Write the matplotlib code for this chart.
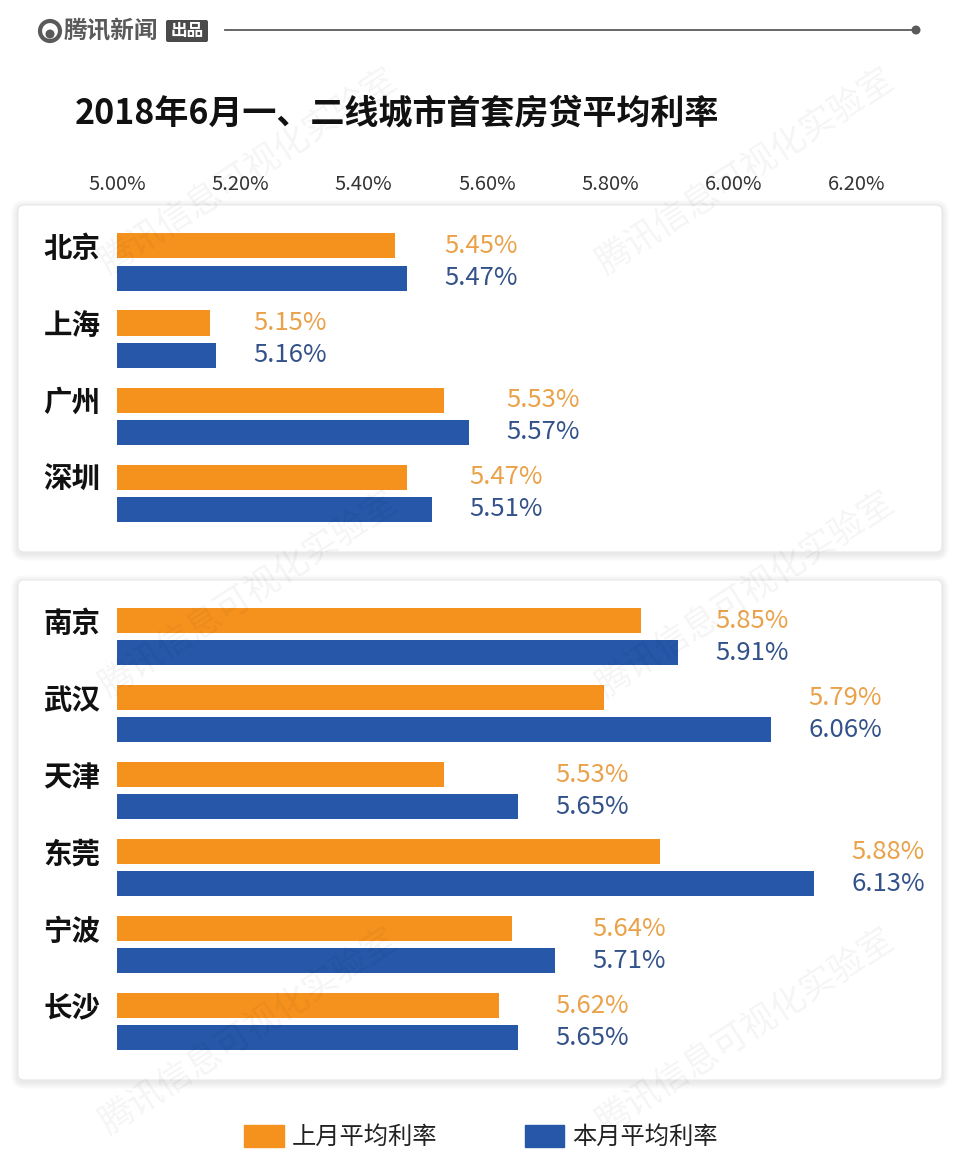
import numpy as np
import matplotlib
matplotlib.use("Agg")
import matplotlib.pyplot as plt
from matplotlib.patches import FancyBboxPatch, Circle, Patch

plt.rcParams['font.family'] = ['Noto Sans CJK SC', 'DejaVu Sans']

# données
title = "2018年6月一、二线城市首套房贷平均利率"
cities = ['北京', '上海', '广州', '深圳', '南京', '武汉', '天津', '东莞', '宁波', '长沙']
tier = [1, 1, 1, 1, 2, 2, 2, 2, 2, 2]
last_month = [5.45, 5.15, 5.53, 5.47, 5.85, 5.79, 5.53, 5.88, 5.64, 5.62]
this_month = [5.47, 5.16, 5.57, 5.51, 5.91, 6.06, 5.65, 6.13, 5.71, 5.65]
ticks = [5.00, 5.20, 5.40, 5.60, 5.80, 6.00, 6.20]
legend_labels = ['上月平均利率', '本月平均利率']

orange = '#F5921E'
blue = '#2657A8'
orange_txt = '#EAA24A'
blue_txt = '#34528A'

W, H = 960, 1174
fig = plt.figure(figsize=(W / 100, H / 100), dpi=100)
fig.patch.set_facecolor('white')

# fond : en-tête, panneaux, filigrane (coordonnées en pixels)
bg = fig.add_axes([0, 0, 1, 1], zorder=0)
bg.set_xlim(0, W)
bg.set_ylim(H, 0)
bg.axis('off')

def panneau(x0, y0, x1, y1):
    for k in range(1, 8):
        bg.add_patch(FancyBboxPatch((x0 - k, y0 - k + 2), (x1 - x0) + 2 * k, (y1 - y0) + 2 * k,
                                    boxstyle="round,pad=0,rounding_size=%d" % (6 + k),
                                    fc='black', ec='none', alpha=0.012))
    bg.add_patch(FancyBboxPatch((x0, y0), x1 - x0, y1 - y0, boxstyle="round,pad=0,rounding_size=6",
                                fc='white', ec='#e8e8e8', lw=0.8))

panneau(18, 205, 942, 552)
panneau(18, 580, 942, 1080)

# en-tête
bg.add_patch(Circle((50, 31), 10, fc='none', ec='#5a5a5a', lw=3))
bg.add_patch(Circle((50, 34), 4.5, fc='#5a5a5a', ec='none'))
bg.text(64, 31, '腾讯新闻', fontsize=17, weight='bold', color='#5a5a5a', va='center', ha='left')
bg.add_patch(FancyBboxPatch((166, 20), 42, 22, boxstyle="round,pad=0,rounding_size=2",
                            fc='#4a4a4a', ec='none'))
bg.text(187, 31, '出品', fontsize=12, weight='bold', color='white', va='center', ha='center')
bg.plot([225, 913], [30, 30], color='#5a5a5a', lw=1.3)
bg.add_patch(Circle((916, 30), 4.5, fc='#5a5a5a', ec='none'))

bg.text(75, 113, title, fontsize=24.5, weight='bold', color='#111111', va='center', ha='left')

# graphique
ax = fig.add_axes([117 / W, 1 - 1080 / H, 740 / W, 875 / H], zorder=1)
ax.patch.set_visible(False)
y = np.arange(len(cities)) + 0.864 * (np.array(tier) == 2)
h = 0.325
ax.barh(y - 0.208, last_month, height=h, left=0, color=orange)
ax.barh(y + 0.208, this_month, height=h, left=0, color=blue)
ax.set_xlim(5.0, 6.2)
ax.set_ylim(10.62, -0.74)

for yi, a, b in zip(y, last_month, this_month):
    m = max(a, b)
    ax.annotate('%.2f%%' % a, (m, yi - 0.208), xytext=(27, 0), textcoords='offset points',
                va='center', ha='left', fontsize=18.5, weight='light', color=orange_txt,
                annotation_clip=False)
    ax.annotate('%.2f%%' % b, (m, yi + 0.208), xytext=(27, 0), textcoords='offset points',
                va='center', ha='left', fontsize=18.5, weight='light', color=blue_txt,
                annotation_clip=False)

ax.xaxis.tick_top()
ax.set_xticks(ticks, ['%.2f%%' % t for t in ticks])
ax.tick_params(axis='x', length=0, pad=7, labelsize=14.5, labelcolor='#333333')
ax.set_yticks(y - 0.208, cities)
ax.tick_params(axis='y', length=0, pad=12, labelsize=20.5, labelcolor='#111111')
for lab in ax.get_yticklabels():
    lab.set_fontweight('bold')
for lab in ax.get_xticklabels():
    lab.set_fontweight('light')
for s in ax.spines.values():
    s.set_visible(False)

# légende
handles = [Patch(color=orange), Patch(color=blue)]
fig.legend(handles, legend_labels, loc='center', bbox_to_anchor=(481 / W, 1 - 1137 / H), ncol=2,
           frameon=False, fontsize=17.5, handlelength=1.63, handleheight=1.0,
           handletextpad=0.33, columnspacing=3.6, labelcolor='#222222')

# filigrane
for cx in [249, 746]:
    for cy in [172, 595, 1032]:
        fig.text(cx / W, 1 - cy / H, '腾讯信息可视化实验室', rotation=33, fontsize=25,
                 color='#000000', alpha=0.045, ha='center', va='center', zorder=10)

plt.savefig('out.png', dpi=100)
